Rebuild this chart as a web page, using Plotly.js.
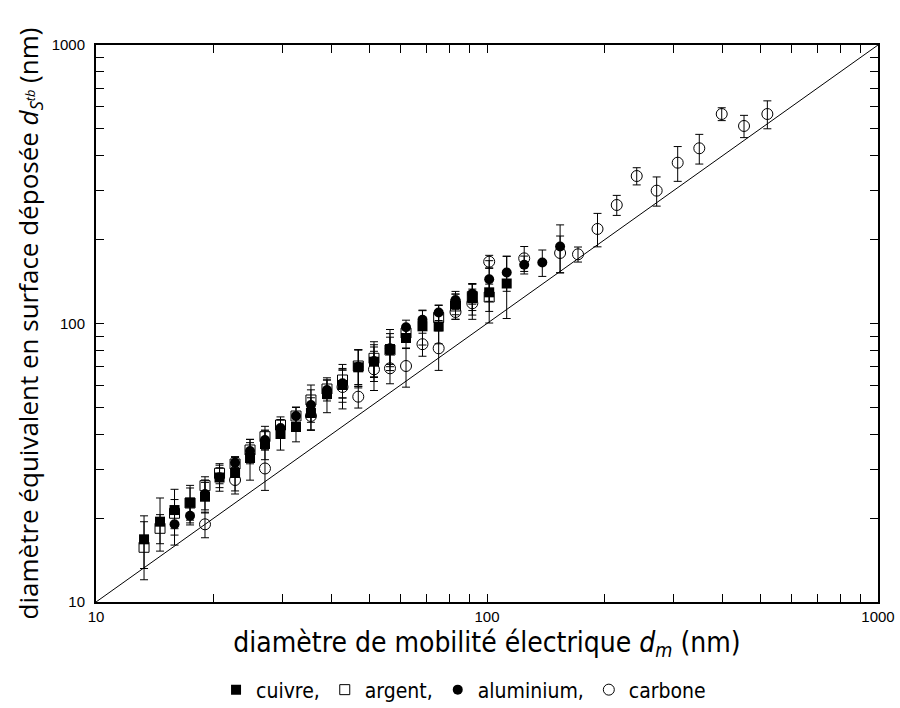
<!DOCTYPE html>
<html>
<head>
<meta charset="utf-8">
<script src="https://cdn.plot.ly/plotly-3.0.1.min.js"></script>
<style>body{margin:0;padding:0;background:#fff;} #chart{width:900px;height:708px;}</style>
</head>
<body>
<div id="chart"></div>
<script>
// ---- data (nm) ----
const cuivreX = [13.27,14.58,15.88,17.40,19.00,20.70,22.68,24.77,27.05,29.64,32.47,35.46,38.97,42.70,46.86,51.40,56.48,62.07,68.39,75.23,83.07,91.71,101.3,112.3];
const cuivreY = [16.79,19.43,21.39,22.73,23.88,27.99,29.05,32.88,36.93,40.11,42.49,47.71,55.83,60.14,69.61,72.91,80.97,88.70,97.70,97.55,117.5,123.2,129.4,139.2];
const cuivreErr = [3.6,4.2,4.0,3.5,3.0,3.0,4.0,5.5,4.5,5.0,4.9,6.4,8.0,8.0,10.9,11.0,11.0,7.4,14.0,13.0,10.0,16.0,29.0,35.0];

const argentX = [13.27,14.58,15.88,17.40,19.00,20.70,22.68,24.77,27.05,29.64,32.47,35.46,38.97,42.70,46.86,51.40,56.48,62.07,75.23,83.07,91.71,101.3];
const argentY = [15.72,18.39,20.83,22.67,26.16,28.98,31.30,35.14,39.23,43.20,46.54,53.13,58.18,62.68,70.37,75.0,80.3,92.4,105.1,115.6,124.9,124.5];
const argentErr = [3.7,2.2,2.5,3.0,2.0,2.4,1.9,2.2,3.5,3.0,3.6,7.0,4.5,8.6,10.0,11.0,9.0,6.0,11.0,12.0,13.6,14.0];

const aluX = [15.88,17.40,19.00,20.70,22.68,24.77,27.05,29.64,32.47,35.46,38.97,42.70,46.86,51.40,56.48,62.07,68.39,75.23,83.07,91.71,101.3,112.3,124.5,138.5,153.8];
const aluY = [19.01,20.41,24.42,28.04,31.64,34.85,38.18,42.15,46.54,50.98,57.70,60.99,69.97,73.35,81.46,96.98,103.2,109.5,121.4,127.9,144.1,152.5,162.6,165.6,189.0];
const aluErr = [3.0,1.5,3.0,2.3,1.6,3.5,3.0,3.0,3.4,6.8,5.0,7.0,10.5,9.0,13.7,5.8,8.0,7.0,9.0,10.6,24.0,22.0,12.0,18.0,37.0];

const carboneX = [19.00,22.68,27.05,35.46,42.70,46.86,51.40,56.48,62.07,68.39,75.23,83.07,91.71,101.3,124.5,153.8,170.9,191.7,214.7,241.5,271.6,307.4,349.1,398.4,454.3,521.2];
const carboneY = [19.01,27.42,30.16,46.54,59.16,54.60,68.47,69.05,70.37,84.27,81.46,110.0,118.2,166.7,171.4,179.1,177.2,218.5,266.4,338.5,299.9,377.9,425.7,565.2,512.0,565.2];
const carboneErr = [2.0,3.0,5.0,5.0,9.8,4.9,11.0,8.3,11.3,8.0,13.6,6.5,14.7,9.0,17.6,27.0,11.0,30.0,22.0,24.0,36.0,54.0,52.0,30.0,47.0,65.0];

// identity line d = dm
const identity = [10, 1000];

const seriesNames = ['cuivre,', 'argent,', 'aluminium,', 'carbone'];

// tick labels
const majorTicks = [10, 100, 1000];
const majorText = ['10', '100', '1000'];
const minorTicks = [20,30,40,50,60,70,80,90,200,300,400,500,600,700,800,900];

function errBar(arr){
  return {type:'data', array:arr, visible:true, color:'#000', thickness:1, width:4};
}

const traces = [
  {x:identity, y:identity, mode:'lines', line:{color:'#000', width:1}, showlegend:false, hoverinfo:'skip'},
  {x:cuivreX, y:cuivreY, name:seriesNames[0], mode:'markers', type:'scatter',
   marker:{symbol:'square', size:10, color:'#000'}, error_y:errBar(cuivreErr)},
  {x:argentX, y:argentY, name:seriesNames[1], mode:'markers', type:'scatter',
   marker:{symbol:'square-open', size:10, color:'#000', line:{width:1}}, error_y:errBar(argentErr)},
  {x:aluX, y:aluY, name:seriesNames[2], mode:'markers', type:'scatter',
   marker:{symbol:'circle', size:10, color:'#000'}, error_y:errBar(aluErr)},
  {x:carboneX, y:carboneY, name:seriesNames[3], mode:'markers', type:'scatter',
   marker:{symbol:'circle-open', size:11, color:'#000', line:{width:1}}, error_y:errBar(carboneErr)}
];

const axisCommon = {
  type:'log', range:[1,3], tickmode:'array', tickvals:majorTicks, ticktext:majorText,
  ticks:'inside', ticklen:8, tickwidth:1, tickcolor:'#000',
  minor:{tickmode:'array', tickvals:minorTicks, ticks:'inside', ticklen:8, tickwidth:1, tickcolor:'#000', showgrid:false},
  showline:true, linewidth:2, linecolor:'#000', mirror:'ticks',
  showgrid:false, zeroline:false, automargin:false,
  tickfont:{family:'Liberation Sans, Arial, sans-serif', size:15, color:'#000'}
};

const layout = {
  width:900, height:708,
  margin:{l:96, r:22, t:45, b:106, autoexpand:false},
  paper_bgcolor:'#fff', plot_bgcolor:'#fff',
  showlegend:true,
  legend:{orientation:'h', x:0.47, xanchor:'center', y:-0.158, yanchor:'middle',
    font:{family:'DejaVu Sans Condensed, DejaVu Sans, sans-serif', size:21, color:'#000'},
    itemwidth:30, tracegroupgap:0, bgcolor:'rgba(0,0,0,0)'},
  xaxis:Object.assign({}, axisCommon, {
    title:{text:'diamètre de mobilité électrique <i>d<sub>m</sub></i> (nm)',
      font:{family:'DejaVu Sans Condensed, DejaVu Sans, sans-serif', size:28, color:'#000'}, standoff:8}
  }),
  yaxis:Object.assign({}, axisCommon, {
    ticklabelstandoff:6,
    title:{text:'diamètre équivalent en surface déposée <i>d<sub>S<sup>tb</sup></sub></i> (nm)',
      font:{family:'Open Sans, sans-serif', size:26, color:'#000'}, standoff:6}
  })
};

Plotly.newPlot('chart', traces, layout, {displayModeBar:false, staticPlot:true});
</script>
</body>
</html>
